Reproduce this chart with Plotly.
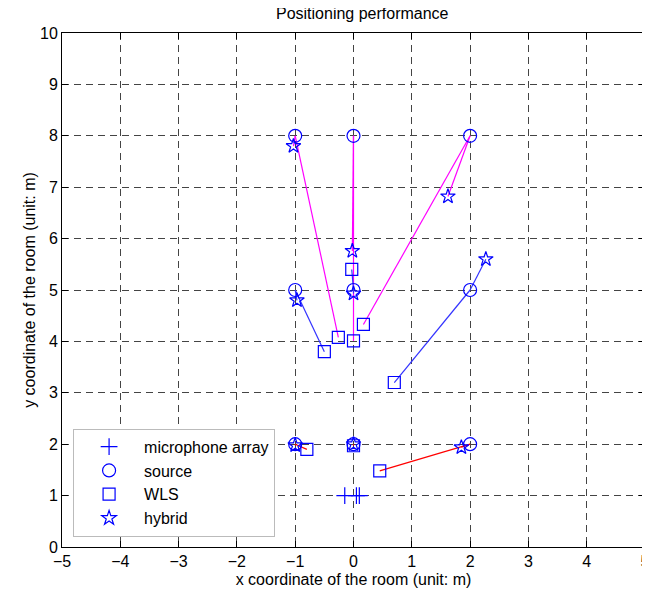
import plotly.graph_objects as go

# Data
mic_x = [-0.15, 0.05, 0.1]
mic_y = [1, 1, 1]
src_x = [-1, 0, 2, -1, 0, 2, -1, 0, 2]
src_y = [8, 8, 8, 5, 5, 5, 2, 2, 2]
wls_x = [-0.26, 0.0, 0.17, -0.5, -0.03, 0.7, -0.8, 0.0, 0.45]
wls_y = [4.08, 4.01, 4.33, 3.8, 5.4, 3.2, 1.9, 1.97, 1.48]
hyb_x = [-1.03, -0.02, 1.62, -0.97, 0.0, 2.27, -1.0, 0.0, 1.85]
hyb_y = [7.8, 5.76, 6.82, 4.8, 4.93, 5.6, 1.98, 2.0, 1.94]
row_colors = {8: "#ff00ff", 5: "#3333ff", 2: "#ff0000"}

FONT = "Liberation Sans, Arial, sans-serif"
MC = "#0000ff"

fig = go.Figure()

# connecting lines, grouped by source row
for row, col in row_colors.items():
    lx, ly = [], []
    for i in range(len(src_x)):
        if src_y[i] != row:
            continue
        lx += [src_x[i], wls_x[i], None, src_x[i], hyb_x[i], None]
        ly += [src_y[i], wls_y[i], None, src_y[i], hyb_y[i], None]
    fig.add_trace(go.Scatter(x=lx, y=ly, mode="lines", line=dict(color=col, width=1.2),
                             showlegend=False, hoverinfo="skip"))

fig.add_trace(go.Scatter(x=mic_x, y=mic_y, mode="markers", name="microphone array",
                         marker=dict(symbol="cross-thin-open", size=12, color=MC,
                                     line=dict(color=MC, width=1.2))))
fig.add_trace(go.Scatter(x=src_x, y=src_y, mode="markers", name="source",
                         marker=dict(symbol="circle-open", size=13, color=MC,
                                     line=dict(color=MC, width=1.2))))
fig.add_trace(go.Scatter(x=wls_x, y=wls_y, mode="markers", name="WLS",
                         marker=dict(symbol="square-open", size=12, color=MC,
                                     line=dict(color=MC, width=1.2))))
fig.add_trace(go.Scatter(x=hyb_x, y=hyb_y, mode="markers", name="hybrid",
                         marker=dict(symbol="star-open", size=11, color=MC,
                                     line=dict(color=MC, width=1.2))))

axis_common = dict(
    showline=True, linecolor="black", linewidth=1, mirror="ticks",
    ticks="inside", ticklen=6, tickcolor="black", tickwidth=1,
    showgrid=True, gridcolor="#444444", gridwidth=1, griddash="7px,5px",
    zeroline=False, tickfont=dict(size=16, color="black", family=FONT),
    dtick=1, automargin=False,
)

fig.update_layout(
    width=650, height=599,
    margin=dict(l=54, r=13, t=25, b=60),
    paper_bgcolor="white", plot_bgcolor="white",
    font=dict(family=FONT, size=16, color="black"),
    title=dict(text="Positioning performance", x=0.545, xanchor="center",
               yref="container", y=1.0, yanchor="top",
               font=dict(size=16, family=FONT, color="black")),
    xaxis=dict(range=[-5, 5], title=dict(text="x coordinate of the room (unit: m)",
                                         font=dict(size=16), standoff=4), **axis_common),
    yaxis=dict(range=[0, 10], title=dict(text="y coordinate of the room (unit: m)",
                                         font=dict(size=16), standoff=0), **axis_common),
    legend=dict(x=0.019, y=0.02, xanchor="left", yanchor="bottom",
                bgcolor="white", bordercolor="#bbbbbb", borderwidth=1,
                font=dict(size=16, family=FONT), itemwidth=60, tracegroupgap=0),
    showlegend=True,
)

fig.write_html("out.html")
